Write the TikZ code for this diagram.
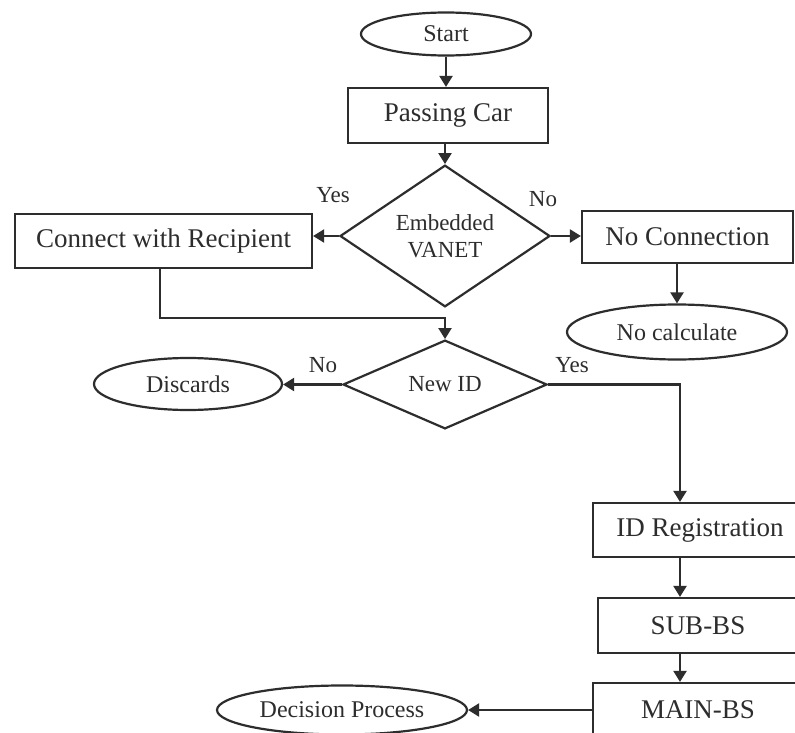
\documentclass[tikz,border=0pt]{standalone}
\usepackage{fontspec}
\setmainfont{Liberation Serif}
\usetikzlibrary{shapes.geometric,arrows.meta}
\definecolor{ink}{RGB}{45,45,45}
\begin{document}
\begin{tikzpicture}[x=1pt,y=-1pt,
  every node/.style={text=ink},
  box/.style={draw=ink,line width=2.2pt,rectangle,inner sep=0pt,font=\fontsize{27}{30}\selectfont},
  oval/.style={draw=ink,line width=2.2pt,ellipse,inner sep=0pt,font=\fontsize{24}{28}\selectfont},
  decision/.style={draw=ink,line width=2.2pt,diamond,inner sep=0pt,align=center,font=\fontsize{23}{27}\selectfont},
  lbl/.style={font=\fontsize{23}{27}\selectfont,inner sep=0pt},
  flow/.style={draw=ink,line width=2.2pt,-{Triangle[length=11pt,width=13pt]}}]
\useasboundingbox (0,0) rectangle (795,733);
\fill[white] (0,0) rectangle (795,733);
\clip (0,0) rectangle (795,733);

\node[oval, minimum width=170pt, minimum height=43pt] (start) at (446,34) {Start};
\node[box, minimum width=200pt, minimum height=55pt] (passing) at (448,115.5) {Passing Car};
\node[decision, minimum width=210pt, minimum height=118pt] (embedded) at (445,236) {Embedded\\VANET};
\node[box, minimum width=297pt, minimum height=54pt] (connect) at (163.5,241) {Connect with Recipient};
\node[box, minimum width=211pt, minimum height=52pt] (noconn) at (687.5,237) {No Connection};
\node[oval, minimum width=220pt, minimum height=55pt] (nocalc) at (677,332) {No calculate};
\node[decision, minimum width=204pt, minimum height=59pt] (newid) at (445,384.5) {New ID};
\node[oval, minimum width=188pt, minimum height=52pt] (discards) at (188,384) {Discards};
\node[box, minimum width=214pt, minimum height=54pt] (idreg) at (700,530) {ID Registration};
\node[box, minimum width=200pt, minimum height=55pt] (subbs) at (698,625.5) {SUB-BS};
\node[box, minimum width=210pt, minimum height=54pt] (mainbs) at (698,710) {MAIN-BS};
\node[oval, minimum width=250pt, minimum height=49pt] (decproc) at (342,710) {Decision Process};

\node[lbl] (yes1) at (333,195) {Yes};
\node[lbl] (no1) at (543,199) {No};
\node[lbl] (no2) at (323,365) {No};
\node[lbl] (yes2) at (572,365) {Yes};

\coordinate (c1) at (160,318);
\coordinate (c2) at (680,384.5);

\draw[flow] (start.south) -- (start.south |- passing.north);
\draw[flow] (passing.south -| embedded.north) -- (embedded.north);
\draw[flow] (embedded.west) -- (embedded.west -| connect.east);
\draw[flow] (embedded.east) -- (embedded.east -| noconn.west);
\draw[flow] (noconn.south -| nocalc.north) -- (nocalc.north);
\draw[flow] (connect.south -| c1) -- (c1) -- (c1 -| newid.north) -- (newid.north);
\draw[flow] (newid.west) -- (newid.west -| discards.east);
\draw[flow] (newid.east) -- (c2) -- (c2 |- idreg.north);
\draw[flow] (idreg.south -| c2) -- (subbs.north -| c2);
\draw[flow] (subbs.south -| c2) -- (mainbs.north -| c2);
\draw[flow] (mainbs.west) -- (decproc.east);
\end{tikzpicture}
\end{document}
